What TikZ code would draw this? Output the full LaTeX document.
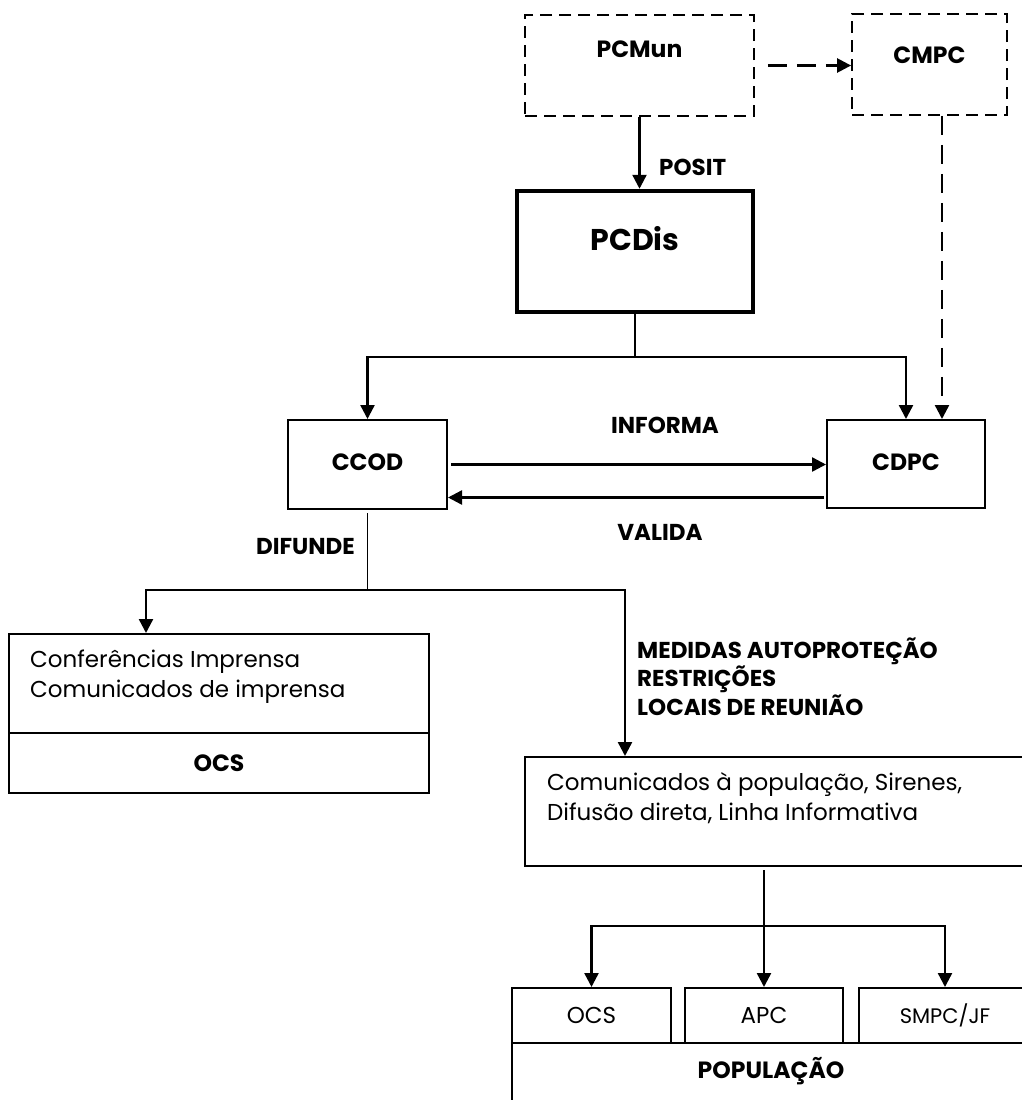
\documentclass[tikz,border=0pt]{standalone}
\usepackage{fontspec}
\setmainfont{Poppins}
\usetikzlibrary{arrows.meta}
\tikzset{
  unit/.style={draw=black, line width=2pt, inner sep=0pt, font=\bfseries\fontsize{23.5}{28}\selectfont},
  unit plan/.style={unit, line width=1.8pt, dash pattern=on 12pt off 7pt},
  unit lead/.style={unit, line width=4.5pt, font=\bfseries\fontsize{30}{36}\selectfont},
  media box/.style={draw=black, line width=2pt, inner sep=0pt},
  media text/.style={inner sep=0pt, align=left, font=\fontsize{23}{29.5}\selectfont},
  link/.style={arrows={-Triangle[length=14pt,width=14pt]}, line width=2.4pt},
  plan link/.style={link, dash pattern=on 19pt off 10pt},
  branch/.style={line width=1.6pt},
  link label/.style={inner sep=0pt, align=left, font=\bfseries\fontsize{23}{28.5}\selectfont}
}

\begin{document}
\begin{tikzpicture}[x=1pt, y=-1pt]
  \useasboundingbox[fill=white] (0,0) rectangle (1022,1100);
  \clip (0,0) rectangle (1022,1100);

  \node[unit plan, minimum width=229pt, text height=42.5pt, text depth=58.5pt] at (639.5,65.5) (pcmun) {PCMun};
  \node[unit plan, minimum width=155pt, text height=49.5pt, text depth=51.5pt] at (929.5,64.5) (cmpc) {CMPC};
  \node[unit lead, minimum width=236pt, text height=59.5pt, text depth=61.5pt] at (635,251.5) (pcdis) {PCDis};

  \node[unit, minimum width=159pt, text height=50.5pt, text depth=38.5pt] at (367.5,464.5) (ccod) {CCOD};
  \node[unit, minimum width=158pt, text height=50.5pt, text depth=37.5pt] at (906,464) (cdpc) {CDPC};

  \node[media box, minimum width=420pt, minimum height=99pt] at (219,683.5) (press) {};
  \node[media text, anchor=west] at (30,676.5) (press text) {Conferências Imprensa\\Comunicados de imprensa};
  \node[unit, minimum width=420pt, minimum height=60pt] at (219,763) (press ocs) {OCS};

  \node[media box, minimum width=505pt, minimum height=109pt] at (777.5,811.5) (comm) {};
  \node[media text, anchor=west] at (547,798) (comm text) {Comunicados à população, Sirenes,\\Difusão direta, Linha Informativa};

  \node[media box, media text, minimum width=159pt, minimum height=55pt] at (591.5,1015.5) (ocs) {OCS};
  \node[media box, media text, minimum width=158pt, minimum height=55pt] at (764,1015.5) (apc) {APC};
  \node[media box, media text, minimum width=172pt, minimum height=55pt, font=\fontsize{21}{24}\selectfont] at (945,1015.5) (smpc) {SMPC/JF};
  \node[unit, minimum width=518pt, text height=35.5pt, text depth=51.5pt] at (771,1086.5) (populacao) {POPULAÇÃO};

  \coordinate (pcdis split) at (635,357);
  \coordinate (ccod split) at (367.5,590);
  \coordinate (comm split) at (764,926);

  \draw[link] (pcmun.south) -- (pcmun.south |- pcdis.north);
  \draw[plan link] ([xshift=13pt]pcmun.east) -- (cmpc.west |- pcmun.east);
  \draw[plan link] ([xshift=12.5pt]cmpc.south) -- ([xshift=12.5pt]cmpc.south |- cdpc.north);

  \draw[branch] (pcdis) -- (pcdis split);
  \draw[link] (pcdis split) -| (ccod);
  \draw[link] (pcdis split) -| (cdpc);

  \draw[link] ([xshift=3pt]ccod.east) -- (ccod.east -| cdpc.west);
  \draw[link] ([xshift=-2pt,yshift=-33.5pt]cdpc.west) -- ([yshift=-33.5pt]cdpc.west -| ccod.east);

  \draw[branch] ([yshift=-3pt]ccod.south) -- (ccod split);
  \draw[link] (ccod split) -| ([xshift=-73pt]press.north);
  \draw[link] (ccod split) -| ([xshift=-152.5pt]comm.north);

  \draw[link] ([yshift=-3pt]comm.south -| apc) -- (apc);
  \draw[link] (comm split) -| (ocs);
  \draw[link] (comm split) -| (smpc);

  \node[link label, anchor=west] at (659,167) (posit) {POSIT};
  \node[link label] at (665,425) (informa) {INFORMA};
  \node[link label] at (660,532) (valida) {VALIDA};
  \node[link label, anchor=east] at (355,547) (difunde) {DIFUNDE};
  \node[link label, anchor=west] at (637,676.5) (medidas) {MEDIDAS AUTOPROTEÇÃO\\RESTRIÇÕES\\LOCAIS DE REUNIÃO};
\end{tikzpicture}
\end{document}
